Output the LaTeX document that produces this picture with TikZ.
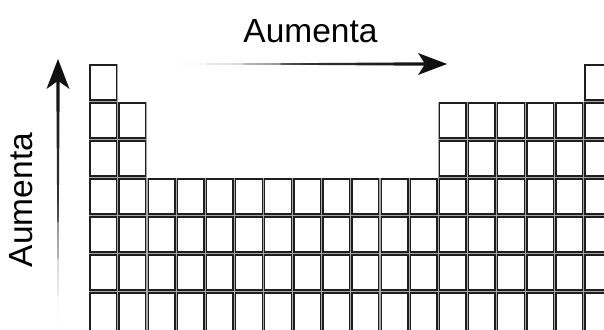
\documentclass[tikz,border=0pt]{standalone}
\usepackage{fontspec}
\setmainfont{Liberation Sans}
\begin{document}
\begin{tikzpicture}[x=1pt,y=-1pt,
  cell/.style={draw=black!88, line width=1.4pt, fill=white,
    minimum width=26.6pt, minimum height=35pt, inner sep=0pt,
    preaction={draw=black!35, line width=3pt}},
  label/.style={inner sep=0pt, font=\fontsize{33.5}{36}\selectfont}]
  \useasboundingbox (0,0) rectangle (604,329);
  \clip (0,0) rectangle (604,329);

  % grid of element cells: column pitch 29.12, row pitch 38
  \newcommand{\placecell}[2]{%
    \node[cell] (cell-#1-#2) at ({90+13.3+(#2-1)*29.12},{65+17.5+(#1-1)*38}) {};}
  % period 1
  \placecell{1}{1}
  \placecell{1}{18}
  % periods 2 and 3
  \foreach \r in {2,3}{
    \foreach \c in {1,2,13,14,15,16,17,18}{\placecell{\r}{\c}}}
  % periods 4 to 6
  \foreach \r in {4,5,6}{
    \foreach \c in {1,...,18}{\placecell{\r}{\c}}}
  % period 7 runs past the lower edge
  \foreach \c in {1,...,18}{
    \node[cell, minimum height=50pt] (cell-7-\c)
      at ({90+13.3+(\c-1)*29.12},{293+25}) {};}

  % labels
  \node[label] (top) at (310.5,31) {Aumenta};
  \node[label, rotate=90] (side) at (21.5,200) {Aumenta};

  % tapered arrows
  \coordinate (htail) at (168,64);
  \coordinate (htip) at (447,64);
  \shade[left color=white, right color=black!95, middle color=black!80]
    (htail) -- (424,62.3) -- (418,53) -- (htip) -- (418,75) -- (424,65.7) -- cycle;

  \coordinate (vtail) at (58,332);
  \coordinate (vtip) at (58,59);
  \shade[bottom color=white, top color=black!95, middle color=black!80]
    (vtail) -- (56.3,82) -- (46.5,89) -- (vtip) -- (69.5,89) -- (59.7,82) -- cycle;
\end{tikzpicture}
\end{document}
